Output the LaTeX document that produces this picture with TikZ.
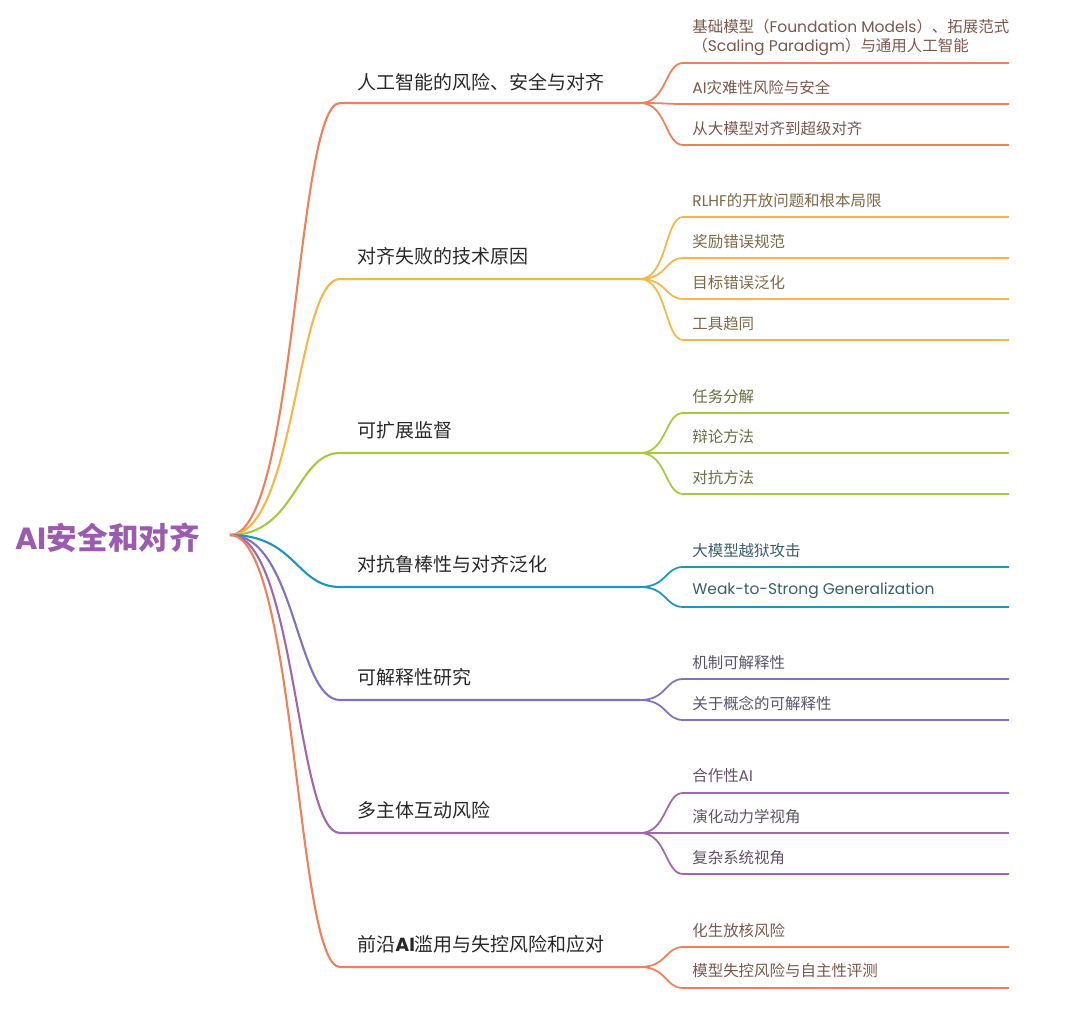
\documentclass[tikz,border=0pt]{standalone}
\usepackage{fontspec}
\setmainfont{Noto Sans CJK SC}
\newfontfamily\latfont{Poppins}
\newcommand{\lat}[1]{{\latfont #1}}
\usepackage{tikz}
\usetikzlibrary{positioning}
\definecolor{brorange}{RGB}{240,128,90}
\definecolor{bryellow}{RGB}{248,182,72}
\definecolor{brgreen}{RGB}{168,200,62}
\definecolor{brteal}{RGB}{28,150,190}
\definecolor{brblue}{RGB}{130,112,192}
\definecolor{brpurple}{RGB}{162,102,172}
\definecolor{rootpurple}{RGB}{155,92,175}
\definecolor{txtdark}{RGB}{40,40,40}
\definecolor{txtgray}{RGB}{70,70,70}
\tikzset{
  rootnode/.style={font=\fontsize{17.4}{20}\selectfont\bfseries,
    text=rootpurple, inner sep=0pt, anchor=west},
  topic/.style={font=\fontsize{10.8}{13}\selectfont, text=txtdark,
    inner sep=0pt, anchor=west},
  leaf/.style={font=\fontsize{8.8}{10.8}\selectfont, text=#1!30!txtgray,
    inner sep=0pt, anchor=west, align=left},
  trunk/.style={line width=1.2pt, color=#1},
  twig/.style={line width=1pt, color=#1}
}

\begin{document}
\begin{tikzpicture}[x=0.02cm, y=-0.02cm]
  \useasboundingbox (0,0) rectangle (1080,1026);

  % Root
  \node[rootnode] (root) at (15,538) {\lat{AI}安全和对齐};
  \coordinate (o) at (230,535);

  % Branch 1
  \coordinate (b1) at (340,103);
  \coordinate (f1) at (640,103);
  \draw[trunk=brorange] (o) .. controls +(66,0) and +(-44,0) .. (b1) -- (f1);
  \node[topic] (t1) at (357,82) {人工智能的风险、安全与对齐};
  \foreach \i/\y in {1/63,2/104,3/145} {
    \coordinate (c1\i) at (683,\y);
    \coordinate (e1\i) at (1009,\y);
    \draw[twig=brorange] (f1) .. controls +(27,0) and +(-18,0) .. (c1\i) -- (e1\i);
  }
  \node[leaf=brorange] (l11) at (692,37) {基础模型（\lat{Foundation Models}）、拓展范式\\（\lat{Scaling Paradigm}）与通用人工智能};
  \node[leaf=brorange] (l12) at (692,88) {\lat{AI}灾难性风险与安全};
  \node[leaf=brorange] (l13) at (692,129) {从大模型对齐到超级对齐};

  % Branch 2
  \coordinate (b2) at (340,279);
  \coordinate (f2) at (640,279);
  \draw[trunk=bryellow] (o) .. controls +(66,0) and +(-44,0) .. (b2) -- (f2);
  \node[topic] (t2) at (357,256) {对齐失败的技术原因};
  \foreach \i/\y in {1/217,2/258,3/299,4/340} {
    \coordinate (c2\i) at (683,\y);
    \coordinate (e2\i) at (1009,\y);
    \draw[twig=bryellow] (f2) .. controls +(27,0) and +(-18,0) .. (c2\i) -- (e2\i);
  }
  \node[leaf=bryellow] (l21) at (692,201) {\lat{RLHF}的开放问题和根本局限};
  \node[leaf=bryellow] (l22) at (692,242) {奖励错误规范};
  \node[leaf=bryellow] (l23) at (692,283) {目标错误泛化};
  \node[leaf=bryellow] (l24) at (692,324) {工具趋同};

  % Branch 3
  \coordinate (b3) at (340,453);
  \coordinate (f3) at (640,453);
  \draw[trunk=brgreen] (o) .. controls +(66,0) and +(-44,0) .. (b3) -- (f3);
  \node[topic] (t3) at (357,430) {可扩展监督};
  \foreach \i/\y in {1/413,2/453,3/494} {
    \coordinate (c3\i) at (683,\y);
    \coordinate (e3\i) at (1009,\y);
    \draw[twig=brgreen] (f3) .. controls +(27,0) and +(-18,0) .. (c3\i) -- (e3\i);
  }
  \node[leaf=brgreen] (l31) at (692,397) {任务分解};
  \node[leaf=brgreen] (l32) at (692,437) {辩论方法};
  \node[leaf=brgreen] (l33) at (692,478) {对抗方法};

  % Branch 4
  \coordinate (b4) at (340,587);
  \coordinate (f4) at (640,587);
  \draw[trunk=brteal] (o) .. controls +(66,0) and +(-44,0) .. (b4) -- (f4);
  \node[topic] (t4) at (357,564) {对抗鲁棒性与对齐泛化};
  \foreach \i/\y in {1/567,2/607} {
    \coordinate (c4\i) at (683,\y);
    \coordinate (e4\i) at (1009,\y);
    \draw[twig=brteal] (f4) .. controls +(27,0) and +(-18,0) .. (c4\i) -- (e4\i);
  }
  \node[leaf=brteal] (l41) at (692,551) {大模型越狱攻击};
  \node[leaf=brteal] (l42) at (692,591) {\lat{Weak-to-Strong Generalization}};

  % Branch 5
  \coordinate (b5) at (340,700);
  \coordinate (f5) at (640,700);
  \draw[trunk=brblue] (o) .. controls +(66,0) and +(-44,0) .. (b5) -- (f5);
  \node[topic] (t5) at (357,677) {可解释性研究};
  \foreach \i/\y in {1/679,2/720} {
    \coordinate (c5\i) at (683,\y);
    \coordinate (e5\i) at (1009,\y);
    \draw[twig=brblue] (f5) .. controls +(27,0) and +(-18,0) .. (c5\i) -- (e5\i);
  }
  \node[leaf=brblue] (l51) at (692,663) {机制可解释性};
  \node[leaf=brblue] (l52) at (692,704) {关于概念的可解释性};

  % Branch 6
  \coordinate (b6) at (340,833);
  \coordinate (f6) at (640,833);
  \draw[trunk=brpurple] (o) .. controls +(66,0) and +(-44,0) .. (b6) -- (f6);
  \node[topic] (t6) at (357,810) {多主体互动风险};
  \foreach \i/\y in {1/793,2/833,3/874} {
    \coordinate (c6\i) at (683,\y);
    \coordinate (e6\i) at (1009,\y);
    \draw[twig=brpurple] (f6) .. controls +(27,0) and +(-18,0) .. (c6\i) -- (e6\i);
  }
  \node[leaf=brpurple] (l61) at (692,776) {合作性\lat{AI}};
  \node[leaf=brpurple] (l62) at (692,817) {演化动力学视角};
  \node[leaf=brpurple] (l63) at (692,858) {复杂系统视角};

  % Branch 7
  \coordinate (b7) at (340,967);
  \coordinate (f7) at (640,967);
  \draw[trunk=brorange] (o) .. controls +(66,0) and +(-44,0) .. (b7) -- (f7);
  \node[topic] (t7) at (357,944) {前沿\textbf{\lat{AI}}滥用与失控风险和应对};
  \foreach \i/\y in {1/947,2/988} {
    \coordinate (c7\i) at (683,\y);
    \coordinate (e7\i) at (1009,\y);
    \draw[twig=brorange] (f7) .. controls +(27,0) and +(-18,0) .. (c7\i) -- (e7\i);
  }
  \node[leaf=brorange] (l71) at (692,931) {化生放核风险};
  \node[leaf=brorange] (l72) at (692,971) {模型失控风险与自主性评测};
\end{tikzpicture}
\end{document}
